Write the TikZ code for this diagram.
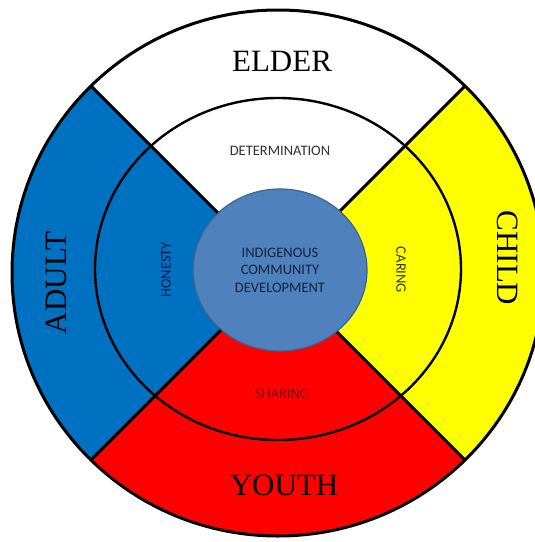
\documentclass[tikz,border=0pt]{standalone}
\usepackage{fontspec}
\setmainfont{Liberation Serif}
\newfontfamily\calibri{Carlito}
\usepackage{xcolor}
\definecolor{ColBlue}{RGB}{0,112,192}
\definecolor{ColYellow}{RGB}{255,255,0}
\definecolor{ColRed}{RGB}{255,0,0}
\definecolor{ColHub}{RGB}{79,129,189}
\definecolor{ColHubEdge}{RGB}{62,98,145}
\definecolor{ColHubText}{RGB}{18,34,66}
\definecolor{ColGrey}{RGB}{50,50,50}
\definecolor{ColNavy}{RGB}{8,28,66}
\definecolor{ColOlive}{RGB}{55,55,0}
\definecolor{ColMaroon}{RGB}{125,0,8}
\usepackage{tikz}
\usetikzlibrary{shapes.geometric}
\tikzstyle{Wheel}=[draw=black,line width=3pt]
\tikzstyle{Ring}=[draw=black,line width=2.4pt]
\tikzstyle{Spoke}=[draw=black,line width=3pt]
\tikzstyle{Hub}=[ellipse,draw=ColHubEdge,fill=ColHub,line width=1.2pt,
minimum width=174pt,minimum height=162pt,inner sep=0pt,align=center,
text=ColHubText,font=\calibri\fontsize{14.5}{17.5}\selectfont]
\tikzstyle{Stage}=[inner sep=0pt,font=\fontsize{31}{31}\selectfont]
\tikzstyle{Value}=[inner sep=0pt,font=\calibri\fontsize{14.5}{17.5}\selectfont]

\begin{document}
\begin{tikzpicture}[x=1pt,y=-1pt]
        \useasboundingbox (0,0) rectangle (535,542);
        \clip (0,0) rectangle (535,542);
        \coordinate (O) at (278,273);
        % four quarters of the wheel
        \begin{scope}
            \clip (O) ellipse [x radius=266pt,y radius=263pt];
            \fill[white] (O) ellipse [x radius=266pt,y radius=263pt];
            \fill[ColBlue] (O) -- ++(-600,-600) -- ++(0,1200) -- cycle;
            \fill[ColYellow] (O) -- ++(600,-600) -- ++(0,1200) -- cycle;
            \fill[ColRed] (O) -- ++(-600,600) -- ++(1200,0) -- cycle;
            \foreach \dx/\dy in {-1/-1,1/-1,-1/1,1/1}
                \draw[Spoke] (O) -- ++(300*\dx,300*\dy);
        \end{scope}
        \draw[Ring] (278,269) ellipse [x radius=183pt,y radius=171pt];
        \draw[Wheel] (O) ellipse [x radius=266pt,y radius=263pt];
        \node[Hub](hub)at(280,270){INDIGENOUS\\COMMUNITY\\DEVELOPMENT};
        % stages of life
        \node[Stage](elder)at(282,61){ELDER};
        \node[Stage](youth)at(284,485){YOUTH};
        \node[Stage,rotate=90](adult)at(56,283){ADULT};
        \node[Stage,rotate=-90](child)at(508,258){CHILD};
        % values
        \node[Value,text=ColGrey](determination)at(280,151){DETERMINATION};
        \node[Value,text=ColNavy,rotate=90](honesty)at(166,270){HONESTY};
        \node[Value,text=ColOlive,rotate=-90](caring)at(401,270){CARING};
        \node[Value,text=ColMaroon](sharing)at(282,394){SHARING};
    \end{tikzpicture}
\end{document}
